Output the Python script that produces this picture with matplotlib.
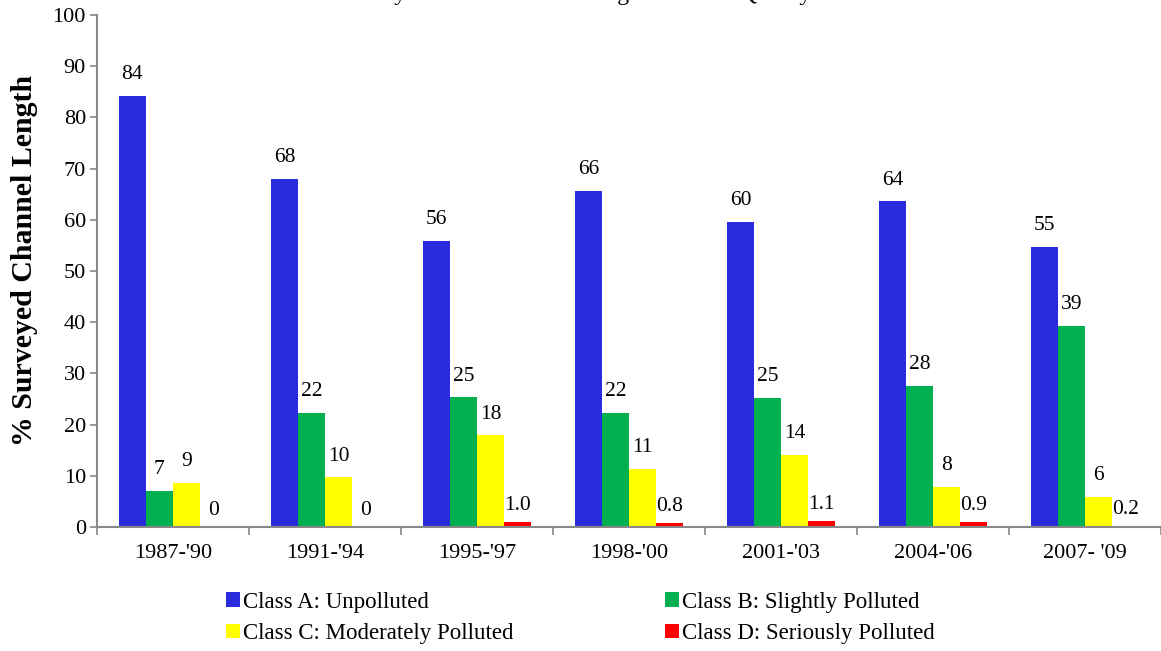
import matplotlib
matplotlib.use("Agg")
import matplotlib.pyplot as plt
import numpy as np

periods = ["1987-'90", "1991-'94", "1995-'97", "1998-'00", "2001-'03", "2004-'06", "2007- '09"]
class_a = [84.2, 68.0, 55.9, 65.6, 59.6, 63.6, 54.7]
class_b = [7.1, 22.3, 25.3, 22.3, 25.2, 27.6, 39.2]
class_c = [8.6, 9.7, 17.9, 11.3, 14.1, 7.9, 5.9]
class_d = [0.0, 0.0, 1.0, 0.8, 1.1, 0.9, 0.2]
labels_a = ["84", "68", "56", "66", "60", "64", "55"]
labels_b = ["7", "22", "25", "22", "25", "28", "39"]
labels_c = ["9", "10", "18", "11", "14", "8", "6"]
labels_d = ["0", "0", "1.0", "0.8", "1.1", "0.9", "0.2"]
series_names = ["Class A: Unpolluted", "Class B: Slightly Polluted",
                "Class C: Moderately Polluted", "Class D: Seriously Polluted"]
colors = ["#2B2BDE", "#00B050", "#FFFF00", "#FF0000"]

plt.rcParams['font.family'] = ['Liberation Serif', 'DejaVu Serif']

fig = plt.figure(figsize=(11.61, 6.51), dpi=100)
ax = fig.add_axes([97/1161, 1-527/651, 1-97/1161, (527-15)/651])

x = np.arange(len(periods))
w = 0.178
series = [class_a, class_b, class_c, class_d]
labs = [labels_a, labels_b, labels_c, labels_d]
bars = []
for i, (vals, lab, c) in enumerate(zip(series, labs, colors)):
    pos = x + (i - 1.5) * w
    b = ax.bar(pos, vals, width=w, color=c, edgecolor='none', label=series_names[i])
    bars.append(b)
    off = 5 if i == 3 else 8.5
    for xp, v, t in zip(pos, vals, lab):
        ax.annotate(t, (xp, v), xytext=(0, off), textcoords='offset points',
                    ha='center', va='bottom', fontsize=15.5)

ax.set_xlim(-0.5, len(periods) - 0.5)
ax.set_ylim(0, 100)
ax.set_yticks(np.arange(0, 101, 10))
ax.tick_params(axis='y', labelsize=16, length=5, width=1.2, color='#888888', direction='out', pad=3)
ax.set_xticks(x)
ax.set_xticklabels(periods, fontsize=16)
ax.tick_params(axis='x', which='major', length=0, pad=12)
ax.set_xticks(np.arange(-0.5, len(periods), 1.0), minor=True)
ax.tick_params(axis='x', which='minor', length=6, width=1.2, color='#888888', direction='out')

for s in ['top', 'right']:
    ax.spines[s].set_visible(False)
for s in ['left', 'bottom']:
    ax.spines[s].set_color('#888888')
    ax.spines[s].set_linewidth(1.5)

ax.set_ylabel("% Surveyed Channel Length", fontsize=21.5, fontweight='bold')
ax.yaxis.set_label_coords(-0.055, 0.521)

handles = [bars[0], bars[2], bars[1], bars[3]]
names = [series_names[0], series_names[2], series_names[1], series_names[3]]
fig.legend(handles, names, ncol=2, loc='center', bbox_to_anchor=(0.5, 1-618/651),
           frameon=False, fontsize=16.5, handlelength=0.6, handleheight=0.6,
           handletextpad=0.15, columnspacing=6.6, labelspacing=0.45)

fig.text(0.485, 1.0, "Summary of River Channel Length of Water Quality",
         ha='center', va='baseline', fontsize=17)

fig.savefig("out.png", dpi=100)
